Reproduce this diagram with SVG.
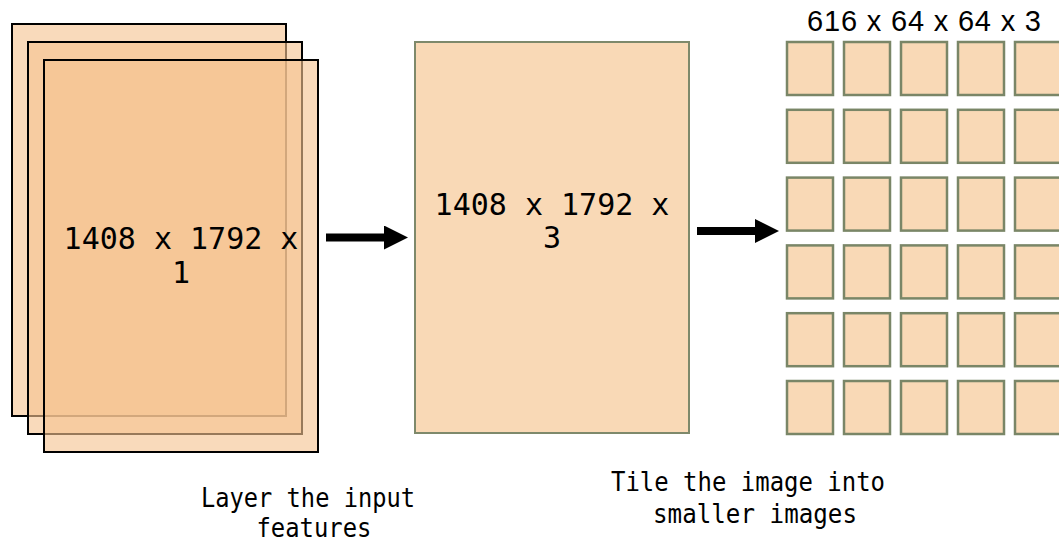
<svg xmlns="http://www.w3.org/2000/svg" width="1059" height="544" viewBox="0 0 1059 544">
  <defs>
    <style>
      .layer { fill: rgb(246,196,145); fill-opacity: 0.62; stroke: #000; stroke-width: 2; }
      .panel { fill: #F9D9B6; stroke: #7E896B; stroke-width: 2; }
      .tile { fill: #F9D9B6; stroke: #7A8667; stroke-width: 2.5; }
      .dim { font-family: "DejaVu Sans Mono", "Liberation Mono", monospace; font-size: 30px; fill: #000; text-anchor: middle; }
      .caption { font-family: "DejaVu Sans Mono", "Liberation Mono", monospace; font-size: 26px; fill: #000; text-anchor: middle; }
      .title { font-family: "Liberation Sans", Arial, sans-serif; font-size: 29px; fill: #000; text-anchor: middle; }
      .flow { stroke: #000; stroke-width: 8; fill: none; }
    </style>
    <marker id="head" markerUnits="userSpaceOnUse" markerWidth="24" markerHeight="24" refX="0" refY="12" orient="auto" viewBox="0 0 24 24">
      <path d="M0,0 L24,12 L0,24 Z" fill="#000"/>
    </marker>
  </defs>

  <!-- stacked input feature layers -->
  <g id="input-layers">
    <rect class="layer" x="12" y="24" width="274" height="392"/>
    <rect class="layer" x="28" y="42" width="274" height="392"/>
    <rect class="layer" x="44" y="60" width="274" height="392"/>
    <text class="dim" x="181" y="249">1408 x 1792 x</text>
    <text class="dim" x="181" y="283">1</text>
  </g>

  <!-- combined three-channel image -->
  <g id="combined-image">
    <rect class="panel" x="415" y="42" width="274" height="391"/>
    <text class="dim" x="552" y="215">1408 x 1792 x</text>
    <text class="dim" x="552" y="248">3</text>
  </g>

  <!-- grid of tiles -->
  <g id="tiles">
    <text class="title" x="924" y="31" textLength="234" lengthAdjust="spacing">616 x 64 x 64 x 3</text>
    <rect class="tile" x="787" y="42" width="46" height="53"/>
    <rect class="tile" x="844" y="42" width="46" height="53"/>
    <rect class="tile" x="901" y="42" width="46" height="53"/>
    <rect class="tile" x="958" y="42" width="46" height="53"/>
    <rect class="tile" x="1015" y="42" width="46" height="53"/>

    <rect class="tile" x="787" y="109.8" width="46" height="53"/>
    <rect class="tile" x="844" y="109.8" width="46" height="53"/>
    <rect class="tile" x="901" y="109.8" width="46" height="53"/>
    <rect class="tile" x="958" y="109.8" width="46" height="53"/>
    <rect class="tile" x="1015" y="109.8" width="46" height="53"/>

    <rect class="tile" x="787" y="177.6" width="46" height="53"/>
    <rect class="tile" x="844" y="177.6" width="46" height="53"/>
    <rect class="tile" x="901" y="177.6" width="46" height="53"/>
    <rect class="tile" x="958" y="177.6" width="46" height="53"/>
    <rect class="tile" x="1015" y="177.6" width="46" height="53"/>

    <rect class="tile" x="787" y="245.4" width="46" height="53"/>
    <rect class="tile" x="844" y="245.4" width="46" height="53"/>
    <rect class="tile" x="901" y="245.4" width="46" height="53"/>
    <rect class="tile" x="958" y="245.4" width="46" height="53"/>
    <rect class="tile" x="1015" y="245.4" width="46" height="53"/>

    <rect class="tile" x="787" y="313.2" width="46" height="53"/>
    <rect class="tile" x="844" y="313.2" width="46" height="53"/>
    <rect class="tile" x="901" y="313.2" width="46" height="53"/>
    <rect class="tile" x="958" y="313.2" width="46" height="53"/>
    <rect class="tile" x="1015" y="313.2" width="46" height="53"/>

    <rect class="tile" x="787" y="381" width="46" height="53"/>
    <rect class="tile" x="844" y="381" width="46" height="53"/>
    <rect class="tile" x="901" y="381" width="46" height="53"/>
    <rect class="tile" x="958" y="381" width="46" height="53"/>
    <rect class="tile" x="1015" y="381" width="46" height="53"/>
  </g>

  <!-- step captions -->
  <g id="caption-layer">
    <text class="caption" x="308" y="507" textLength="214" lengthAdjust="spacingAndGlyphs">Layer the input</text>
    <text class="caption" x="314" y="537" textLength="115" lengthAdjust="spacingAndGlyphs">features</text>
  </g>
  <g id="caption-tile">
    <text class="caption" x="748" y="491" textLength="274" lengthAdjust="spacingAndGlyphs">Tile the image into</text>
    <text class="caption" x="755" y="523" textLength="204" lengthAdjust="spacingAndGlyphs">smaller images</text>
  </g>

  <!-- connectors -->
  <g id="connectors">
    <line class="flow" x1="326" y1="237.5" x2="384" y2="237.5" marker-end="url(#head)"/>
    <line class="flow" x1="697" y1="231" x2="755" y2="231" marker-end="url(#head)"/>
  </g>
</svg>
